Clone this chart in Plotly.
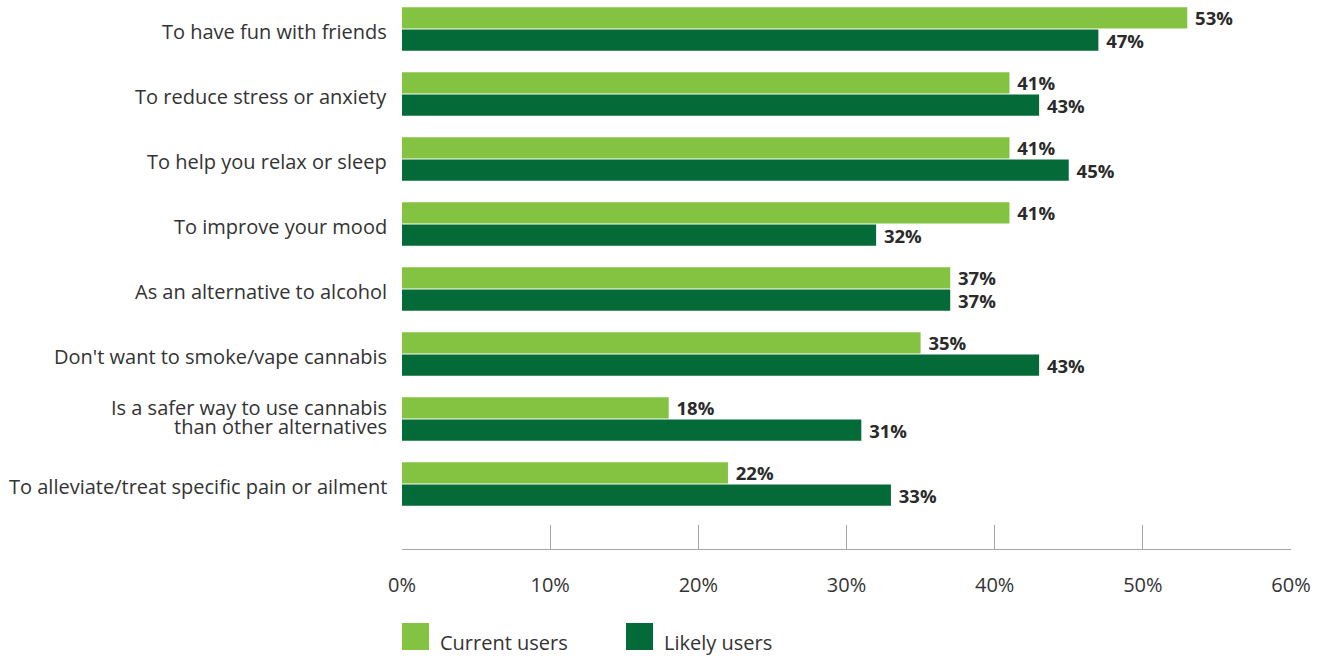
import plotly.graph_objects as go

categories = [
    "To have fun with friends",
    "To reduce stress or anxiety",
    "To help you relax or sleep",
    "To improve your mood",
    "As an alternative to alcohol",
    "Don't want to smoke/vape cannabis",
    "Is a safer way to use cannabis<br>than other alternatives",
    "To alleviate/treat specific pain or ailment",
]
current_users = [53, 41, 41, 41, 37, 35, 18, 22]
likely_users = [47, 43, 45, 32, 37, 43, 31, 33]
series_names = ["Current users", "Likely users"]
x_ticks = [0, 10, 20, 30, 40, 50, 60]
x_tick_labels = ["0%", "10%", "20%", "30%", "40%", "50%", "60%"]

LIGHT = "#84C341"
DARK = "#046A38"
FONT = "Open Sans, Noto Sans, sans-serif"
TXT = "#333333"

ypos = list(range(len(categories)))

fig = go.Figure()
for name, vals, col in [(series_names[0], current_users, LIGHT), (series_names[1], likely_users, DARK)]:
    fig.add_trace(go.Bar(
        y=ypos, x=vals, name=name, orientation="h",
        marker=dict(color=col, line=dict(width=0)),
        text=[f"{v}%" for v in vals],
        texttemplate=" %{text}",
        textposition="outside",
        constraintext="none",
        textfont=dict(family=FONT, size=18.5, color="#2A2A2A", weight=700),
        cliponaxis=False,
        showlegend=False,
        hoverinfo="skip",
    ))

fig.update_layout(
    width=1329, height=658,
    margin=dict(l=402, r=38, t=3, b=109),
    barmode="group", bargap=0.31, bargroupgap=0.05,
    plot_bgcolor="white", paper_bgcolor="white",
    font=dict(family=FONT, color=TXT, size=20),
    xaxis=dict(
        range=[0, 60], tickvals=x_ticks, ticktext=x_tick_labels,
        showgrid=False, zeroline=False,
        showline=True, linecolor="#A6A6A6", linewidth=1,
        ticks="inside", ticklen=24, tickcolor="#A6A6A6", tickwidth=1,
        ticklabelstandoff=18,
        tickfont=dict(family=FONT, size=20, color=TXT),
    ),
    yaxis=dict(
        range=[8, -0.4], tickvals=ypos, ticktext=[""] * len(categories),
        showgrid=False, zeroline=False, showline=False, ticks="",
    ),
)

# Category labels as annotations (tighter line spacing for wrapped label)
LINE_H = 19
for yi, cat in zip(ypos, categories):
    lines = cat.split("<br>")
    n = len(lines)
    base = -2 if n == 1 else 2.5
    for k, line in enumerate(lines):
        fig.add_annotation(xref="paper", yref="y", x=-0.0146, y=yi,
                           text=line, showarrow=False,
                           xanchor="right", yanchor="middle",
                           yshift=-((k - (n - 1) / 2) * LINE_H) + base,
                           font=dict(family=FONT, size=20, color=TXT))

# Legend drawn manually (large swatches)
legend_items = [(series_names[0], LIGHT, 402), (series_names[1], DARK, 626)]
for name, col, px in legend_items:
    x0 = (px - 402) / 889
    x1 = (px + 27 - 402) / 889
    fig.add_shape(type="rect", xref="paper", yref="paper",
                  x0=x0, x1=x1, y0=(658 - 109 - 650) / 546, y1=(658 - 109 - 623) / 546,
                  fillcolor=col, line=dict(width=0))
    fig.add_annotation(xref="paper", yref="paper", x=(px + 36 - 402) / 889,
                       y=(658 - 109 - 642) / 546, text=name, showarrow=False,
                       xanchor="left", yanchor="middle",
                       font=dict(family=FONT, size=20, color=TXT))

fig.write_html("out.html", config={"displayModeBar": False},
               post_script="document.body.style.margin='0';")
